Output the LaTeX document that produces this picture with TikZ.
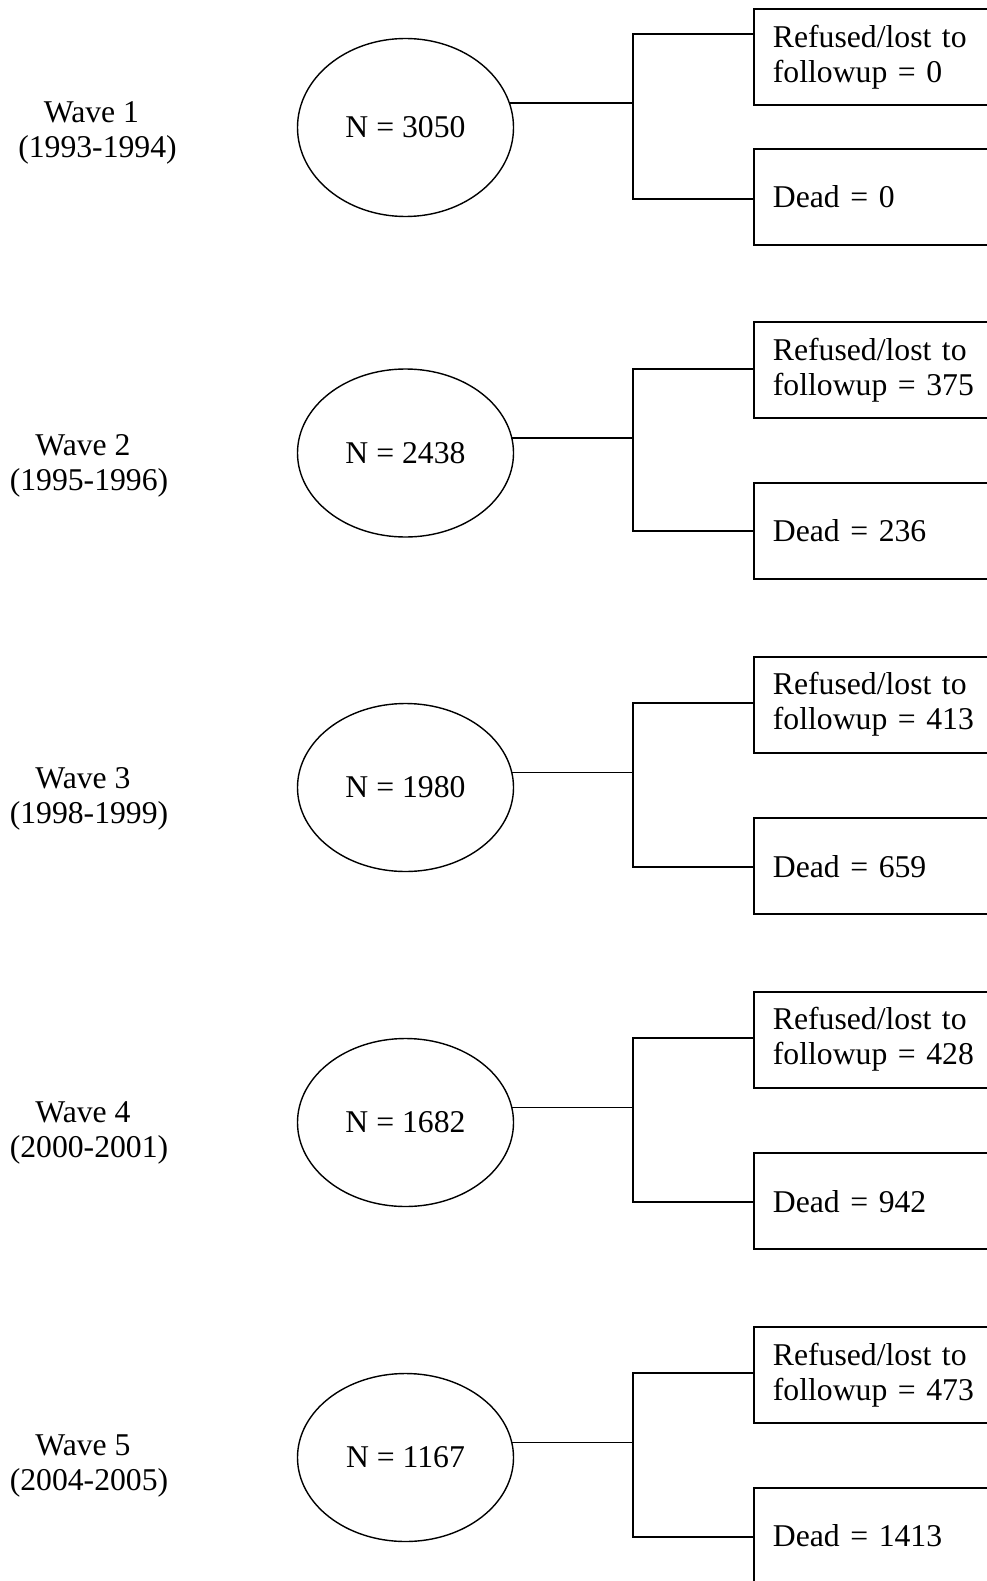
\documentclass[tikz,border=0pt]{standalone}
\usepackage{fontspec}
\setmainfont{Liberation Serif}
\usetikzlibrary{shapes.geometric}

\begin{document}
\begin{tikzpicture}[x=1pt, y=-1pt, line width=1.8pt,
		every node/.style={font=\fontsize{31.7}{35}\selectfont},
		wave/.style={align=center, inner sep=0pt},
		sample/.style={draw, ellipse, line width=1.4pt, minimum width=216pt, minimum height=168pt, inner sep=0pt},
		outcome/.style={draw, rectangle, anchor=west, minimum height=96pt, text width=230pt, align=left, inner xsep=19pt}]
		\useasboundingbox (0,0) rectangle (987,1581);
		\clip (0,0) rectangle (987,1581);

		% Wave 1
		\node (wave1) [wave] at (97.5,133) {Wave 1\hspace*{12pt}\\(1993-1994)};
		\node (n1) [sample, minimum height=178pt] at (405.5,127.5) {N = 3050};
		\node (lost1) [outcome] at (753,57) {Refused/lost to\\followup = 0};
		\node (dead1) [outcome] at (753,197) {Dead = 0};
		\coordinate (a1) at (633,34);
		\coordinate (b1) at (633,199);

		% Wave 2
		\node (wave2) [wave] at (89,466) {Wave 2\hspace*{12pt}\\(1995-1996)};
		\node (n2) [sample] at (405.5,453) {N = 2438};
		\node (lost2) [outcome] at (753,370) {Refused/lost to\\followup = 375};
		\node (dead2) [outcome] at (753,531) {Dead = 236};
		\coordinate (a2) at (633,369);
		\coordinate (b2) at (633,531);

		% Wave 3
		\node (wave3) [wave] at (89,799) {Wave 3\hspace*{12pt}\\(1998-1999)};
		\node (n3) [sample] at (405.5,787.5) {N = 1980};
		\node (lost3) [outcome] at (753,704.7) {Refused/lost to\\followup = 413};
		\node (dead3) [outcome] at (753,866.3) {Dead = 659};
		\coordinate (a3) at (633,703.3);
		\coordinate (b3) at (633,866.7);

		% Wave 4
		\node (wave4) [wave] at (89,1133) {Wave 4\hspace*{12pt}\\(2000-2001)};
		\node (n4) [sample] at (405.5,1122.5) {N = 1682};
		\node (lost4) [outcome] at (753,1039.7) {Refused/lost to\\followup = 428};
		\node (dead4) [outcome] at (753,1201.3) {Dead = 942};
		\coordinate (a4) at (633,1038.3);
		\coordinate (b4) at (633,1201.7);

		% Wave 5
		\node (wave5) [wave] at (89,1466) {Wave 5\hspace*{12pt}\\(2004-2005)};
		\node (n5) [sample] at (405.5,1457.5) {N = 1167};
		\node (lost5) [outcome] at (753,1375) {Refused/lost to\\followup = 473};
		\node (dead5) [outcome] at (753,1536) {Dead = 1413};
		\coordinate (a5) at (633,1373);
		\coordinate (b5) at (633,1537);

		% Brackets
		\draw (n1.13) -- (a1 |- n1.13);
		\draw (lost1.west |- a1) -- (a1) -- (b1) -- (dead1.west |- b1);
		\draw (n2.8) -- (a2 |- n2.8);
		\draw (lost2.west |- a2) -- (a2) -- (b2) -- (dead2.west |- b2);
		\draw (n3.8) -- (a3 |- n3.8);
		\draw (lost3.west |- a3) -- (a3) -- (b3) -- (dead3.west |- b3);
		\draw (n4.8) -- (a4 |- n4.8);
		\draw (lost4.west |- a4) -- (a4) -- (b4) -- (dead4.west |- b4);
		\draw (n5.8) -- (a5 |- n5.8);
		\draw (lost5.west |- a5) -- (a5) -- (b5) -- (dead5.west |- b5);
	\end{tikzpicture}
\end{document}
